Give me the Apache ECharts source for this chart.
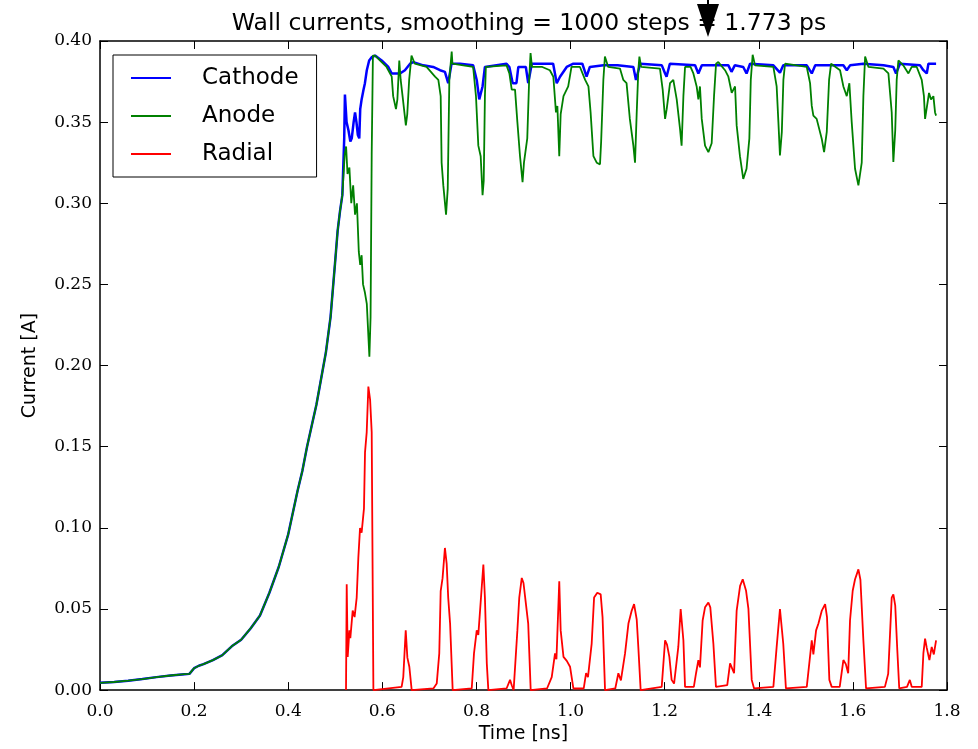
<!DOCTYPE html>
<html>
<head>
<meta charset="utf-8">
<script src="https://cdn.jsdelivr.net/npm/echarts@6/dist/echarts.min.js"></script>
<style>
  html, body { margin: 0; padding: 0; background: #fff; }
  #wall_currents_con { width: 978px; height: 749px; }
</style>
</head>
<body>
<div id="wall_currents_con"></div>
<script>
// common rise, cathode and anode overlap up to ~0.52 ns
var riseT = [0.000, 0.03, 0.06, 0.09, 0.12, 0.15, 0.18, 0.19, 0.20, 0.21, 0.22, 0.24, 0.26, 0.28, 0.30, 0.32, 0.34, 0.36, 0.38, 0.40, 0.42, 0.43, 0.44, 0.45, 0.46, 0.47, 0.48, 0.49, 0.50, 0.505, 0.51, 0.515];
var riseI = [0.0045, 0.0050, 0.0058, 0.0068, 0.0080, 0.0090, 0.0098, 0.0100, 0.0135, 0.0150, 0.0160, 0.0185, 0.0215, 0.0270, 0.0310, 0.0380, 0.0460, 0.0600, 0.0760, 0.0960, 0.1230, 0.1350, 0.1500, 0.1630, 0.1760, 0.1920, 0.2080, 0.2300, 0.2650, 0.2830, 0.2950, 0.3050];

var cathodeT = [0.519, 0.5205, 0.524, 0.528, 0.532, 0.535, 0.539, 0.542, 0.545, 0.548, 0.551, 0.553, 0.556, 0.560, 0.563, 0.567, 0.572, 0.5774, 0.5845, 0.5986, 0.6128, 0.620, 0.6376, 0.648, 0.659, 0.666, 0.687, 0.708, 0.7226, 0.733, 0.740, 0.747, 0.765, 0.793, 0.8006, 0.806, 0.813, 0.818, 0.864, 0.870, 0.877, 0.885, 0.889, 0.905, 0.910, 0.9176, 0.963, 0.9706, 0.9776, 0.9918, 1.006, 1.025, 1.034, 1.041, 1.070, 1.10, 1.1335, 1.139, 1.148, 1.194, 1.2009, 1.204, 1.211, 1.2646, 1.2716, 1.279, 1.3354, 1.342, 1.349, 1.367, 1.374, 1.3815, 1.431, 1.445, 1.452, 1.502, 1.5126, 1.52, 1.5797, 1.587, 1.594, 1.6223, 1.665, 1.686, 1.6917, 1.700, 1.7428, 1.7498, 1.757, 1.7605, 1.7768];
var cathodeI = [0.340, 0.367, 0.350, 0.345, 0.338, 0.340, 0.350, 0.356, 0.350, 0.342, 0.340, 0.358, 0.364, 0.370, 0.374, 0.382, 0.388, 0.390, 0.391, 0.388, 0.384, 0.380, 0.380, 0.382, 0.386, 0.387, 0.385, 0.384, 0.382, 0.381, 0.374, 0.386, 0.386, 0.385, 0.376, 0.364, 0.372, 0.384, 0.386, 0.384, 0.374, 0.374, 0.384, 0.384, 0.374, 0.386, 0.386, 0.374, 0.378, 0.384, 0.386, 0.386, 0.378, 0.384, 0.385, 0.385, 0.384, 0.376, 0.386, 0.385, 0.380, 0.378, 0.386, 0.385, 0.380, 0.385, 0.385, 0.381, 0.385, 0.384, 0.380, 0.386, 0.385, 0.3805, 0.385, 0.385, 0.380, 0.385, 0.385, 0.382, 0.385, 0.386, 0.385, 0.384, 0.380, 0.386, 0.385, 0.382, 0.380, 0.386, 0.386];

var anodeT = [0.520, 0.523, 0.526, 0.530, 0.534, 0.538, 0.542, 0.546, 0.550, 0.553, 0.556, 0.559, 0.563, 0.567, 0.5725, 0.575, 0.5774, 0.580, 0.5845, 0.5986, 0.609, 0.620, 0.623, 0.629, 0.632, 0.636, 0.639, 0.643, 0.650, 0.653, 0.657, 0.662, 0.669, 0.694, 0.712, 0.719, 0.724, 0.726, 0.7296, 0.7354, 0.739, 0.7424, 0.7474, 0.749, 0.772, 0.793, 0.799, 0.804, 0.809, 0.813, 0.8155, 0.818, 0.820, 0.864, 0.870, 0.875, 0.882, 0.887, 0.8926, 0.898, 0.901, 0.908, 0.912, 0.915, 0.918, 0.940, 0.956, 0.9634, 0.969, 0.972, 0.976, 0.979, 0.985, 0.995, 1.002, 1.020, 1.031, 1.038, 1.0426, 1.0486, 1.0556, 1.0626, 1.065, 1.0697, 1.073, 1.080, 1.105, 1.1122, 1.119, 1.126, 1.1335, 1.137, 1.1405, 1.144, 1.1463, 1.150, 1.190, 1.1958, 1.2009, 1.2043, 1.2114, 1.2184, 1.2256, 1.2327, 1.236, 1.2398, 1.2433, 1.255, 1.261, 1.268, 1.2716, 1.275, 1.2788, 1.2858, 1.2929, 1.2999, 1.3049, 1.3092, 1.314, 1.3283, 1.3354, 1.3425, 1.3496, 1.353, 1.360, 1.367, 1.374, 1.380, 1.383, 1.387, 1.392, 1.431, 1.438, 1.4417, 1.445, 1.449, 1.4523, 1.4558, 1.4807, 1.502, 1.509, 1.5126, 1.516, 1.523, 1.5339, 1.5388, 1.5445, 1.5494, 1.5537, 1.5727, 1.5798, 1.587, 1.5925, 1.5975, 1.6046, 1.6117, 1.6188, 1.6223, 1.626, 1.633, 1.665, 1.6755, 1.6825, 1.686, 1.690, 1.6931, 1.6967, 1.707, 1.718, 1.725, 1.7357, 1.7463, 1.751, 1.7534, 1.757, 1.7618, 1.766, 1.7711, 1.7746, 1.7768];
var anodeI = [0.330, 0.335, 0.318, 0.322, 0.300, 0.311, 0.293, 0.300, 0.270, 0.262, 0.268, 0.250, 0.245, 0.238, 0.2055, 0.230, 0.330, 0.391, 0.391, 0.387, 0.384, 0.378, 0.366, 0.358, 0.364, 0.388, 0.376, 0.366, 0.348, 0.355, 0.376, 0.391, 0.386, 0.384, 0.378, 0.376, 0.366, 0.325, 0.311, 0.293, 0.309, 0.376, 0.3935, 0.386, 0.385, 0.384, 0.366, 0.3355, 0.329, 0.305, 0.314, 0.366, 0.384, 0.385, 0.380, 0.370, 0.370, 0.350, 0.329, 0.313, 0.325, 0.340, 0.376, 0.3925, 0.384, 0.384, 0.382, 0.378, 0.356, 0.360, 0.329, 0.355, 0.366, 0.372, 0.384, 0.384, 0.376, 0.372, 0.356, 0.329, 0.325, 0.324, 0.338, 0.376, 0.3904, 0.384, 0.383, 0.376, 0.374, 0.352, 0.3355, 0.325, 0.355, 0.382, 0.3904, 0.384, 0.383, 0.370, 0.352, 0.358, 0.374, 0.376, 0.364, 0.3457, 0.3355, 0.366, 0.384, 0.384, 0.380, 0.372, 0.364, 0.372, 0.352, 0.3355, 0.3315, 0.337, 0.366, 0.386, 0.387, 0.382, 0.378, 0.368, 0.372, 0.348, 0.329, 0.315, 0.3213, 0.340, 0.376, 0.3915, 0.385, 0.384, 0.372, 0.350, 0.3295, 0.344, 0.376, 0.386, 0.385, 0.384, 0.374, 0.360, 0.354, 0.352, 0.3396, 0.3315, 0.344, 0.376, 0.386, 0.382, 0.372, 0.366, 0.374, 0.350, 0.3213, 0.311, 0.325, 0.366, 0.3904, 0.384, 0.383, 0.380, 0.356, 0.3254, 0.345, 0.376, 0.388, 0.385, 0.380, 0.384, 0.384, 0.376, 0.366, 0.352, 0.352, 0.368, 0.364, 0.366, 0.356, 0.354];

var radialT = [0.5228, 0.5243, 0.5264, 0.530, 0.532, 0.537, 0.541, 0.5455, 0.549, 0.5526, 0.556, 0.561, 0.5632, 0.5668, 0.5703, 0.574, 0.5774, 0.581, 0.641, 0.6445, 0.6497, 0.6532, 0.6574, 0.6624, 0.7085, 0.7156, 0.721, 0.724, 0.728, 0.733, 0.7367, 0.740, 0.744, 0.7495, 0.790, 0.7948, 0.8006, 0.804, 0.8147, 0.818, 0.822, 0.8253, 0.864, 0.8714, 0.875, 0.879, 0.887, 0.891, 0.8963, 0.900, 0.9068, 0.910, 0.9153, 0.950, 0.960, 0.967, 0.970, 0.976, 0.979, 0.985, 0.992, 0.9989, 1.006, 1.028, 1.033, 1.037, 1.0449, 1.050, 1.0568, 1.064, 1.068, 1.0733, 1.095, 1.1016, 1.107, 1.1158, 1.123, 1.130, 1.135, 1.1406, 1.144, 1.149, 1.1937, 1.2009, 1.205, 1.210, 1.2148, 1.220, 1.229, 1.234, 1.2398, 1.2433, 1.262, 1.2667, 1.2716, 1.275, 1.2807, 1.2858, 1.2929, 1.297, 1.3035, 1.309, 1.333, 1.339, 1.3475, 1.353, 1.3603, 1.3659, 1.373, 1.378, 1.385, 1.39, 1.431, 1.438, 1.445, 1.452, 1.4577, 1.502, 1.5126, 1.516, 1.5218, 1.5268, 1.534, 1.541, 1.545, 1.55, 1.555, 1.572, 1.5798, 1.585, 1.590, 1.5939, 1.5996, 1.6046, 1.6117, 1.616, 1.6223, 1.628, 1.668, 1.675, 1.6825, 1.686, 1.690, 1.6944, 1.6985, 1.715, 1.721, 1.725, 1.7463, 1.7498, 1.7534, 1.757, 1.7626, 1.7675, 1.772, 1.7768];
var radialI = [0.000, 0.0652, 0.0205, 0.0368, 0.032, 0.049, 0.045, 0.057, 0.0815, 0.0998, 0.097, 0.112, 0.1465, 0.159, 0.187, 0.179, 0.159, 0.000, 0.002, 0.008, 0.0368, 0.020, 0.0144, 0.000, 0.001, 0.004, 0.0226, 0.061, 0.069, 0.0876, 0.078, 0.057, 0.041, 0.000, 0.001, 0.0226, 0.0368, 0.034, 0.0774, 0.057, 0.0165, 0.000, 0.001, 0.0063, 0.003, 0.000, 0.0368, 0.057, 0.0691, 0.066, 0.049, 0.041, 0.000, 0.001, 0.008, 0.0226, 0.019, 0.067, 0.0368, 0.0205, 0.018, 0.0144, 0.001, 0.001, 0.0104, 0.008, 0.0287, 0.057, 0.060, 0.059, 0.045, 0.000, 0.001, 0.0104, 0.006, 0.0226, 0.041, 0.049, 0.053, 0.0435, 0.0266, 0.000, 0.002, 0.0307, 0.028, 0.0205, 0.0063, 0.004, 0.0266, 0.050, 0.0307, 0.002, 0.002, 0.0104, 0.0185, 0.014, 0.0429, 0.051, 0.054, 0.051, 0.0287, 0.002, 0.003, 0.0165, 0.0104, 0.049, 0.0642, 0.0683, 0.0612, 0.050, 0.0063, 0.001, 0.002, 0.0266, 0.050, 0.0287, 0.001, 0.002, 0.0307, 0.022, 0.0368, 0.041, 0.049, 0.053, 0.045, 0.0063, 0.002, 0.002, 0.0185, 0.016, 0.0104, 0.0429, 0.0612, 0.0683, 0.0744, 0.068, 0.0307, 0.001, 0.002, 0.010, 0.057, 0.059, 0.052, 0.0246, 0.001, 0.002, 0.0063, 0.002, 0.002, 0.0226, 0.0317, 0.026, 0.0185, 0.0266, 0.022, 0.0307];

function pairs(t, v) {
    var out = [];
    for (var i = 0; i < t.length; i++) {
        out.push([t[i], v[i]]);
    }
    return out;
}

var cathodeData = pairs(riseT.concat(cathodeT), riseI.concat(cathodeI));
var anodeData = pairs(riseT.concat(anodeT), riseI.concat(anodeI));
var radialData = pairs(radialT, radialI);

var sans = 'DejaVu Sans';
var serif = 'DejaVu Serif';

function frameAxis(pos, isX) {
    var ax = {
        type: 'value',
        position: pos,
        min: 0,
        max: isX ? 1.8 : 0.4,
        interval: isX ? 0.2 : 0.05,
        axisLine: { show: true, onZero: false, lineStyle: { color: '#000', width: 1.5 } },
        axisTick: { show: true, inside: true, length: 8, lineStyle: { color: '#000', width: 1 } },
        axisLabel: { show: false },
        splitLine: { show: false }
    };
    return ax;
}

var xBottom = frameAxis('bottom', true);
xBottom.axisLabel = {
    show: true, color: '#000', fontFamily: serif, fontSize: 17, margin: 13,
    formatter: function (v) { return v.toFixed(1); }
};
xBottom.name = 'Time [ns]';
xBottom.nameLocation = 'middle';
xBottom.nameGap = 32;
xBottom.nameTextStyle = { color: '#000', fontFamily: sans, fontSize: 19 };

var yLeft = frameAxis('left', false);
yLeft.axisLabel = {
    show: true, color: '#000', fontFamily: serif, fontSize: 17, margin: 8,
    formatter: function (v) { return v.toFixed(2); }
};
yLeft.name = 'Current [A]';
yLeft.nameLocation = 'middle';
yLeft.nameGap = 60;
yLeft.nameTextStyle = { color: '#000', fontFamily: sans, fontSize: 19 };

var option = {
    animation: false,
    backgroundColor: '#fff',
    title: {
        text: 'Wall currents, smoothing = 1000 steps = 1.773 ps',
        left: 524,
        textAlign: 'center',
        top: 7,
        textStyle: { color: '#000', fontFamily: sans, fontSize: 23.5, fontWeight: 'normal' }
    },
    legend: {
        data: ['Cathode', 'Anode', 'Radial'],
        orient: 'vertical',
        left: 113,
        top: 55,
        selectedMode: false,
        icon: 'rect',
        itemWidth: 40,
        itemHeight: 2,
        itemGap: 12,
        padding: [10, 18, 10, 18],
        borderColor: '#000',
        borderWidth: 1,
        backgroundColor: '#fff',
        textStyle: { color: '#000', fontFamily: sans, fontSize: 23, lineHeight: 26, padding: [0, 0, 0, 26] }
    },
    grid: { left: 100, right: 31, top: 41, bottom: 52, containLabel: false },
    xAxis: [xBottom, frameAxis('top', true)],
    yAxis: [yLeft, frameAxis('right', false)],
    series: [
        {
            name: 'Cathode', type: 'line', showSymbol: false, xAxisIndex: 0, yAxisIndex: 0,
            lineStyle: { color: '#0000ff', width: 2.5 }, itemStyle: { color: '#0000ff' },
            data: cathodeData
        },
        {
            name: 'Anode', type: 'line', showSymbol: false, xAxisIndex: 0, yAxisIndex: 0,
            lineStyle: { color: '#008000', width: 1.8 }, itemStyle: { color: '#008000' },
            data: anodeData
        },
        {
            name: 'Radial', type: 'line', showSymbol: false, xAxisIndex: 0, yAxisIndex: 0,
            lineStyle: { color: '#ff0000', width: 1.8 }, itemStyle: { color: '#ff0000' },
            data: radialData
        }
    ],
    graphic: [
        // mouse cursor that sits on the title in the screenshot
        { type: 'rect', shape: { x: 707, y: 0, width: 2, height: 6 }, style: { fill: '#000' }, z: 100 },
        { type: 'polygon', shape: { points: [[697, 4], [719, 4], [708, 37]] }, style: { fill: '#000' }, z: 100 }
    ]
};

var wallChart = echarts.init(document.getElementById('wall_currents_con'));
wallChart.setOption(option);

window.addEventListener('resize', function () {
    wallChart.resize();
});
</script>
</body>
</html>
